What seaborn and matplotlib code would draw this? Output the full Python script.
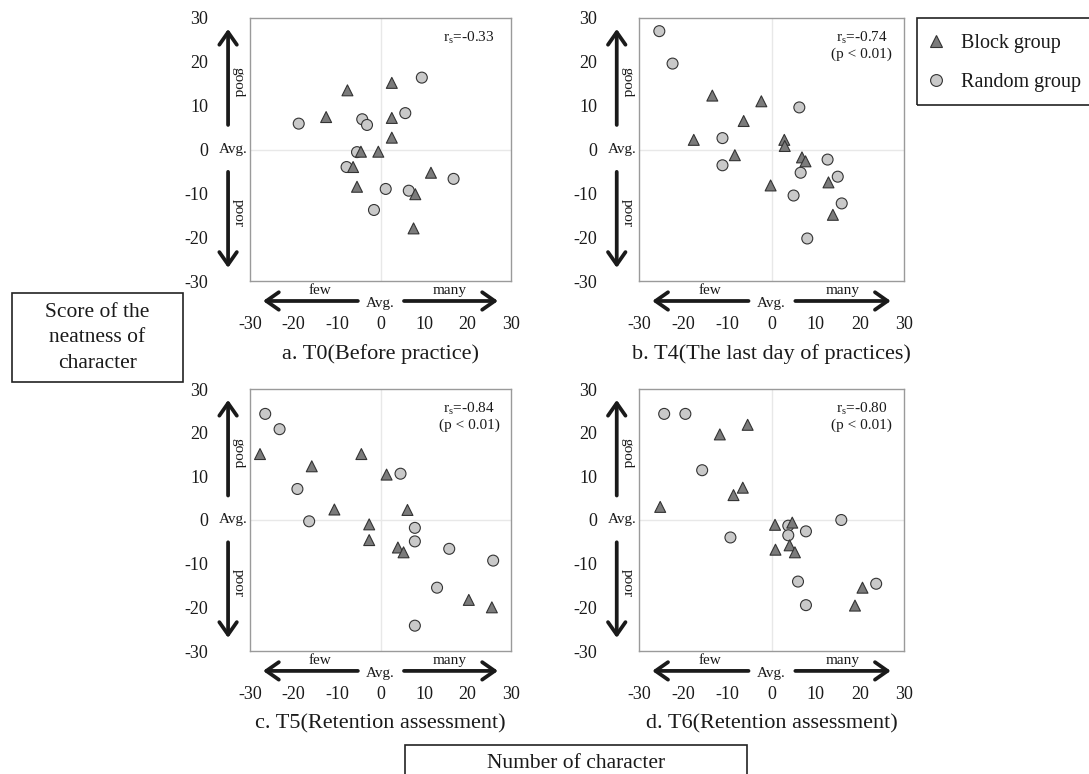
import numpy as np
import pandas as pd
import matplotlib
matplotlib.use("Agg")
import matplotlib.pyplot as plt
from matplotlib.lines import Line2D
from matplotlib.patches import Rectangle
import seaborn as sns

W, H = 1089, 774

panel_titles = ["a. T0(Before practice)", "b. T4(The last day of practices)",
                "c. T5(Retention assessment)", "d. T6(Retention assessment)"]
rs_values = ["-0.33", "-0.74", "-0.84", "-0.80"]
p_labels = ["", "(p < 0.01)", "(p < 0.01)", "(p < 0.01)"]
ticks = [-30, -20, -10, 0, 10, 20, 30]
group_names = ["Block group", "Random group"]

# T0
t0_block_x = [-7.6, -12.5, 2.6, 2.6, 2.6, -4.5, -0.5, -6.3, -5.4, 11.6, 8.0, 7.6]
t0_block_y = [13.5, 7.4, 15.2, 7.2, 2.7, -0.5, -0.5, -4.0, -8.5, -5.3, -10.2, -18.0]
t0_random_x = [-18.8, -4.2, -3.1, 5.7, 9.5, -5.4, -7.8, 1.2, 6.5, -1.5, 16.8]
t0_random_y = [5.9, 6.9, 5.6, 8.3, 16.4, -0.6, -4.0, -9.0, -9.4, -13.8, -6.7]

# T4
t4_block_x = [-17.6, -13.4, -2.3, -6.3, -8.3, 2.9, 3.0, 6.9, 7.7, -0.2, 12.9, 13.9]
t4_block_y = [2.2, 12.3, 11.0, 6.5, -1.3, 2.2, 0.8, -1.8, -2.7, -8.2, -7.5, -14.9]
t4_random_x = [-25.4, -22.4, -11.1, -11.1, 6.3, 6.6, 12.7, 15.0, 5.0, 15.9, 8.1]
t4_random_y = [27.0, 19.6, 2.6, -3.6, 9.6, -5.3, -2.3, -6.2, -10.5, -12.3, -20.3]

# T5
t5_block_x = [-27.7, -15.8, -4.4, -10.6, -2.6, -2.6, 1.4, 6.2, 4.0, 5.3, 20.3, 25.6]
t5_block_y = [15.1, 12.3, 15.1, 2.4, -1.0, -4.6, 10.4, 2.3, -6.3, -7.4, -18.3, -20.0]
t5_random_x = [-26.5, -23.2, -19.1, -16.4, 4.6, 7.9, 7.9, 15.8, 25.9, 13.0, 7.9]
t5_random_y = [24.3, 20.8, 7.1, -0.3, 10.6, -1.8, -4.9, -6.6, -9.3, -15.5, -24.2]

# T6
t6_block_x = [-25.2, -11.7, -5.4, -8.6, -6.5, 0.8, 4.7, 4.1, 5.3, 0.9, 20.6, 18.9]
t6_block_y = [3.0, 19.6, 21.8, 5.7, 7.4, -1.1, -0.6, -5.8, -7.4, -6.8, -15.5, -19.6]
t6_random_x = [-24.3, -19.5, -15.7, -9.3, 3.8, 3.8, 7.8, 15.8, 6.0, 7.8, 23.7]
t6_random_y = [24.3, 24.3, 11.4, -4.0, -1.3, -3.5, -2.6, 0.0, -14.1, -19.5, -14.6]

PALETTE = {"Block group": "#7b7b7b", "Random group": "#c9c9c9"}
MARKERS = {"Block group": "^", "Random group": "o"}
EDGE = "#333333"


def px_rect(l, t, r, b):
    return [l / W, 1 - b / H, (r - l) / W, (b - t) / H]


def make_frame(block_x, block_y, random_x, random_y):
    # random first so the triangles sit on top, like the original
    rnd = pd.DataFrame({"x": random_x, "y": random_y, "group": "Random group"})
    blk = pd.DataFrame({"x": block_x, "y": block_y, "group": "Block group"})
    return pd.concat([rnd, blk], ignore_index=True)


def draw_panel(ax, df, title, rs, p):
    ax.axhline(0, color="#e8e8e8", lw=1, zorder=0)
    ax.axvline(0, color="#e8e8e8", lw=1, zorder=0)
    sns.scatterplot(data=df, x="x", y="y", hue="group", style="group",
                    palette=PALETTE, markers=MARKERS, s=62, edgecolor=EDGE,
                    linewidth=0.8, legend=False, ax=ax, zorder=3)
    ax.set_xlim(-30, 30)
    ax.set_ylim(-30, 30)
    ax.set_xticks(ticks)
    ax.set_yticks(ticks)
    ax.tick_params(axis="y", length=0, pad=30, labelsize=13)
    ax.tick_params(axis="x", length=0, pad=25, labelsize=13)
    ax.set_xlabel("")
    ax.set_ylabel("")
    for sp in ax.spines.values():
        sp.set_color("#9a9a9a")
        sp.set_linewidth(1)

    yt = ax.get_yaxis_transform()
    xt = ax.get_xaxis_transform()
    arrow = dict(arrowstyle="->,head_length=0.5,head_width=0.35", lw=2.7,
                 color="#1a1a1a", mutation_scale=18, shrinkA=0, shrinkB=0)
    # good / poor arrows
    ax.annotate("", xy=(-0.084, 27.5), xytext=(-0.084, 5.6), xycoords=yt,
                textcoords=yt, arrowprops=arrow)
    ax.annotate("", xy=(-0.084, -27.0), xytext=(-0.084, -5.1), xycoords=yt,
                textcoords=yt, arrowprops=arrow)
    ax.text(-0.046, 15.4, "good", transform=yt, rotation=270, ha="center",
            va="center", fontsize=11)
    ax.text(-0.046, -14.5, "poor", transform=yt, rotation=270, ha="center",
            va="center", fontsize=11)
    ax.text(-0.008, 0, "Avg.", transform=yt, ha="right", va="center", fontsize=11)
    # few / many arrows
    ax.annotate("", xy=(-27.0, -0.076), xytext=(-5.2, -0.076), xycoords=xt,
                textcoords=xt, arrowprops=arrow)
    ax.annotate("", xy=(27.0, -0.076), xytext=(5.4, -0.076), xycoords=xt,
                textcoords=xt, arrowprops=arrow)
    ax.text(-13.9, -0.036, "few", transform=xt, ha="center", va="center", fontsize=11)
    ax.text(16.0, -0.036, "many", transform=xt, ha="center", va="center", fontsize=11)
    ax.text(0, -0.084, "Avg.", transform=xt, ha="center", va="center", fontsize=11)

    label = "r$_{\\mathrm{s}}$=" + rs
    if p:
        label += "\n" + p
    ax.text(0.84, 0.955, label, transform=ax.transAxes, ha="center", va="top",
            fontsize=11, linespacing=1.15)
    ax.text(0.5, -0.278, title, transform=ax.transAxes, ha="center",
            va="center", fontsize=16)


def main():
    sns.set_theme(style="white")
    plt.rcParams["font.family"] = ["Liberation Serif", "DejaVu Serif"]
    plt.rcParams["axes.unicode_minus"] = False
    plt.rcParams["mathtext.fontset"] = "custom"
    plt.rcParams["mathtext.rm"] = "Liberation Serif"
    plt.rcParams["mathtext.it"] = "Liberation Serif:italic"
    plt.rcParams["text.color"] = "#1a1a1a"
    plt.rcParams["xtick.color"] = "#1a1a1a"
    plt.rcParams["ytick.color"] = "#1a1a1a"

    fig = plt.figure(figsize=(W / 100, H / 100), dpi=100)
    fig.patch.set_facecolor("white")

    boxes = [(250, 18, 511, 281), (639, 18, 904, 281),
             (250, 389, 511, 651), (639, 389, 904, 651)]
    frames = [make_frame(t0_block_x, t0_block_y, t0_random_x, t0_random_y),
              make_frame(t4_block_x, t4_block_y, t4_random_x, t4_random_y),
              make_frame(t5_block_x, t5_block_y, t5_random_x, t5_random_y),
              make_frame(t6_block_x, t6_block_y, t6_random_x, t6_random_y)]

    for box, df, title, rs, p in zip(boxes, frames, panel_titles, rs_values, p_labels):
        ax = fig.add_axes(px_rect(*box))
        draw_panel(ax, df, title, rs, p)

    # legend
    fig.patches.append(Rectangle((917 / W, 1 - 105 / H), 200 / W, 87 / H,
                                 transform=fig.transFigure, fill=False,
                                 edgecolor="#222222", lw=1.2))
    handles = [Line2D([], [], ls="", marker=MARKERS[g], markersize=8.5,
                      markerfacecolor=PALETTE[g], markeredgecolor=EDGE,
                      markeredgewidth=0.8) for g in group_names]
    fig.legend(handles, group_names, loc="upper left",
               bbox_to_anchor=(926 / W, 1 - 34 / H), frameon=False,
               fontsize=14.5, handlelength=1.0, handletextpad=0.75,
               labelspacing=1.0, borderpad=0, borderaxespad=0)

    # y label box
    fig.patches.append(Rectangle((12 / W, 1 - 382 / H), 171 / W, 89 / H,
                                 transform=fig.transFigure, fill=False,
                                 edgecolor="#222222", lw=1.2))
    fig.text(97.5 / W, 1 - 338 / H, "Score of the\nneatness of\ncharacter",
             ha="center", va="center", fontsize=15.5, linespacing=1.45)

    # x label box
    fig.patches.append(Rectangle((405 / W, 1 - 800 / H), 342 / W, 55 / H,
                                 transform=fig.transFigure, fill=False,
                                 edgecolor="#222222", lw=1.2))
    fig.text(576 / W, 1 - 763 / H, "Number of character", ha="center",
             va="center", fontsize=15.5)

    fig.savefig("out.png", dpi=100)
    plt.close(fig)


if __name__ == "__main__":
    main()
